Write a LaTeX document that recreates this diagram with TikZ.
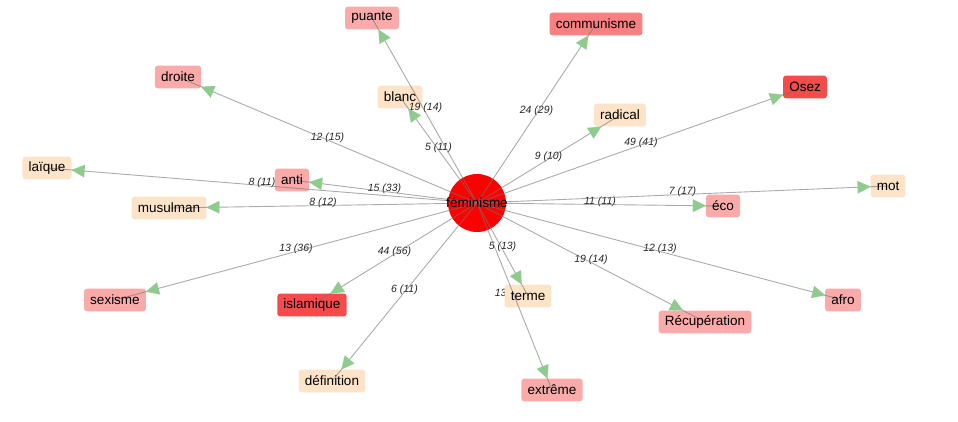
\documentclass[tikz,border=0pt]{standalone}
\usepackage{fontspec}
\setmainfont{Liberation Sans}
\usetikzlibrary{arrows.meta,calc}
\definecolor{peach}{HTML}{FDE3C8}
\definecolor{pinkc}{HTML}{FBAAAA}
\definecolor{redm}{HTML}{F98080}
\definecolor{reds}{HTML}{F54B4B}
\definecolor{arrg}{HTML}{8FCB8F}
\pgfdeclarelayer{labels}
\pgfdeclarelayer{boxes}
\pgfdeclarelayer{edges}
\pgfsetlayers{labels,boxes,edges,main}
\newcommand\mk[4]{%
  \node[tn] (#1) at (#2) {#3};
  \begin{pgfonlayer}{boxes}\fill[#4, rounded corners=3pt] (#1.south west) rectangle (#1.north east);\end{pgfonlayer}}
% #1 target, #2 label, #3 layer for the label, #4 extra label options
\newcommand\ed[4]{%
  \begin{pgfonlayer}{#3}\path (F.center) -- node[lab,#4]{#2} (#1.center);\end{pgfonlayer}
  \begin{pgfonlayer}{edges}
    \draw[edge] (F.center) -- (#1.center);
    \path (F.center) -- (#1) coordinate[pos=1] (tmp#1);
    \draw[tipst] ($(tmp#1)!20pt!(F.center)$) -- (tmp#1);
  \end{pgfonlayer}}
\begin{document}
\begin{tikzpicture}[x=1pt,y=-1pt,
  tn/.style={inner xsep=6pt, inner ysep=0pt, minimum height=22.5pt, font=\fontsize{13.5}{16}\selectfont, text=black},
  lab/.style={font=\fontsize{10.5}{12}\selectfont\itshape, text=black!85, inner sep=0pt, yshift=2.5pt},
  edge/.style={draw=black!55, draw opacity=0.6, line width=0.9pt},
  tipst/.style={draw=arrg, line width=0.01pt, -{Triangle[length=13pt,width=12.5pt,color=arrg]}}]
\useasboundingbox (0,0) rectangle (958,421);
\node[circle, minimum size=58pt, inner sep=0pt, font=\fontsize{13.5}{16}\selectfont] (F) at (477,203) {féminisme};
\begin{pgfonlayer}{boxes}\fill[red] (F.center) circle (29pt);\end{pgfonlayer}
\mk{puante}{372,18}{puante}{pinkc}
\mk{communisme}{596,24}{communisme}{redm}
\mk{droite}{178,77}{droite}{pinkc}
\mk{blanc}{400,97}{blanc}{peach}
\mk{radical}{620,115}{radical}{peach}
\mk{osez}{805,87}{Osez}{reds}
\mk{laique}{47,168}{laïque}{peach}
\mk{anti}{292,180}{anti}{pinkc}
\mk{musulman}{169,208}{musulman}{peach}
\mk{mot}{888,186}{mot}{peach}
\mk{eco}{723,206}{éco}{pinkc}
\mk{sexisme}{115,300}{sexisme}{pinkc}
\mk{islamique}{312,305}{islamique}{reds}
\mk{terme}{528,296}{terme}{peach}
\mk{afro}{843,300}{afro}{pinkc}
\mk{recup}{705,322}{Récupération}{pinkc}
\mk{definition}{332,381}{définition}{peach}
\mk{extreme}{552,390}{extrême}{pinkc}
\ed{puante}{19 (14)}{edges}{xshift=1pt}
\ed{communisme}{24 (29)}{labels}{}
\ed{droite}{12 (15)}{labels}{}
\ed{blanc}{5 (11)}{labels}{}
\ed{radical}{9 (10)}{labels}{}
\ed{osez}{49 (41)}{labels}{}
\ed{laique}{8 (11)}{labels}{}
\ed{anti}{15 (33)}{labels}{}
\ed{musulman}{8 (12)}{labels}{}
\ed{mot}{7 (17)}{labels}{}
\ed{eco}{11 (11)}{labels}{}
\ed{sexisme}{13 (36)}{labels}{}
\ed{islamique}{44 (56)}{labels}{}
\ed{terme}{5 (13)}{labels}{}
\ed{afro}{12 (13)}{labels}{}
\ed{recup}{19 (14)}{labels}{}
\ed{definition}{6 (11)}{labels}{}
\ed{extreme}{13 (14)}{labels}{xshift=-3pt}
\end{tikzpicture}
\end{document}
